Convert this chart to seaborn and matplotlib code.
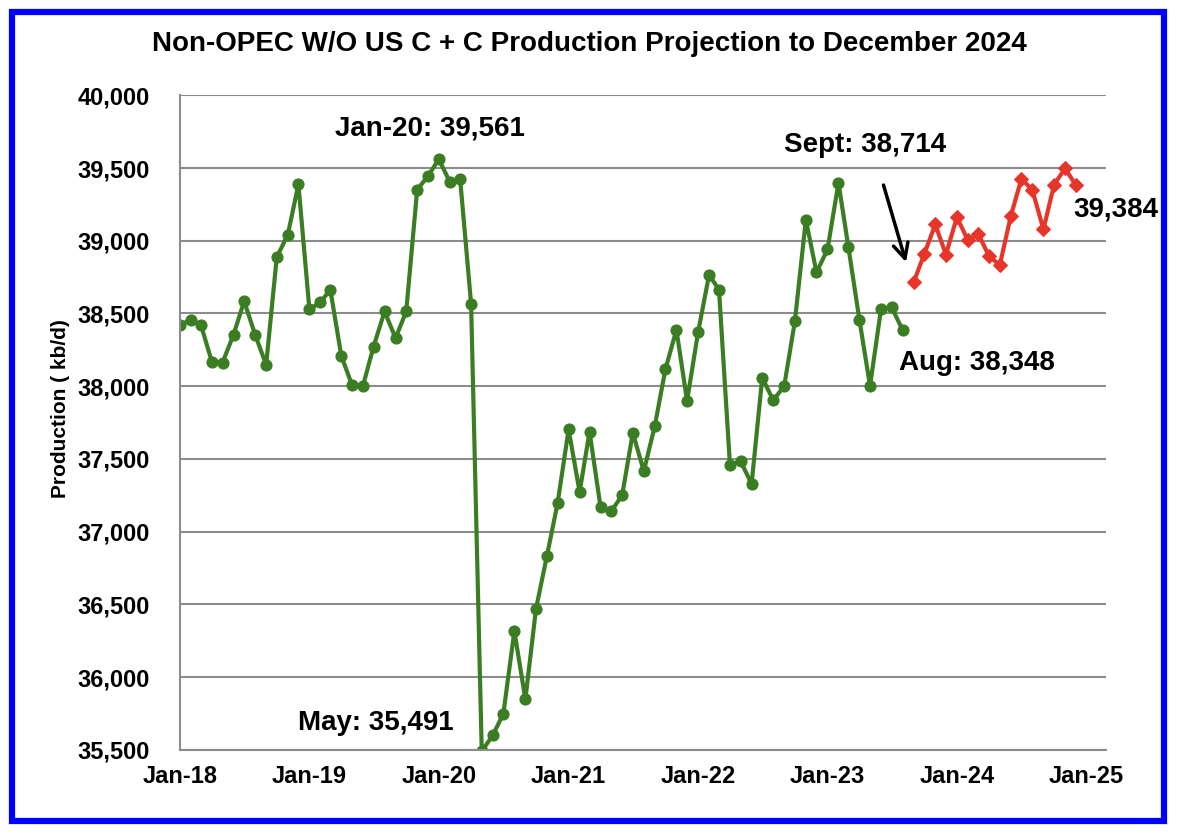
import matplotlib
matplotlib.use("Agg")
import matplotlib.pyplot as plt
import matplotlib.dates as mdates
from matplotlib.patches import Rectangle
import pandas as pd
import seaborn as sns

# monthly production, kb/d
actual_start = "2018-01-01"
actual_kbd = [
    38423, 38455, 38423, 38167, 38163, 38354, 38584, 38354, 38147, 38887, 39041, 39388,
    38528, 38577, 38664, 38209, 38009, 38002, 38273, 38514, 38331, 38514, 39352, 39443,
    39561, 39404, 39427, 38565, 35491, 35600, 35749, 36317, 35848, 36469, 36836, 37197,
    37703, 37273, 37687, 37170, 37140, 37250, 37680, 37416, 37726, 38117, 38388, 37899,
    38370, 38765, 38664, 37457, 37485, 37328, 38059, 37903, 38002, 38446, 39145, 38783,
    38940, 39398, 38956, 38457, 38002, 38531, 38542, 38386,
]
proj_start = "2023-09-01"
proj_kbd = [
    38714, 38910, 39112, 38905, 39163, 39002, 39048, 38892,
    38834, 39170, 39427, 39347, 39078, 39386, 39497, 39384,
]
year_ticks = pd.date_range("2018-01-01", "2025-01-01", freq="YS")

actual = pd.DataFrame({
    "month": pd.date_range(actual_start, periods=len(actual_kbd), freq="MS"),
    "kbd": actual_kbd,
})
proj = pd.DataFrame({
    "month": pd.date_range(proj_start, periods=len(proj_kbd), freq="MS"),
    "kbd": proj_kbd,
})

sns.set_theme(style="white")
plt.rcParams["font.family"] = ["Liberation Sans", "DejaVu Sans"]
plt.rcParams["font.weight"] = "bold"
plt.rcParams["text.color"] = "black"
plt.rcParams["xtick.labelcolor"] = "black"
plt.rcParams["ytick.labelcolor"] = "black"

fig = plt.figure(figsize=(11.84, 8.36), dpi=100)
ax = fig.add_axes([0.152, 0.103, 0.782, 0.783])

green = "#3A7D22"
red = "#E8352A"
sns.lineplot(data=actual, x="month", y="kbd", ax=ax, color=green, linewidth=3,
             marker="o", markersize=8, markeredgecolor=green)
sns.lineplot(data=proj, x="month", y="kbd", ax=ax, color=red, linewidth=3,
             marker="D", markersize=7, markeredgecolor=red)

ax.set_ylim(35500, 40000)
ax.set_yticks(range(35500, 40001, 500))
ax.set_yticklabels([f"{v:,}" for v in range(35500, 40001, 500)])
ax.set_xlim(pd.Timestamp("2018-01-01"), pd.Timestamp("2025-02-24"))
ax.set_xticks(year_ticks)
ax.xaxis.set_major_formatter(mdates.DateFormatter("%b-%y"))

ax.grid(axis="y", color="#8C8C8C", linewidth=1.5)
ax.grid(axis="x", visible=False)
for side in ["top", "right"]:
    ax.spines[side].set_visible(False)
for side in ["left", "bottom"]:
    ax.spines[side].set_color("#8C8C8C")
    ax.spines[side].set_linewidth(1.5)
ax.tick_params(axis="x", direction="in", length=7, width=1.5, color="#8C8C8C",
               labelcolor="black", labelsize=17, pad=11)
ax.tick_params(axis="y", length=0, labelcolor="black", labelsize=17, pad=21.5)
for lab in ax.get_xticklabels() + ax.get_yticklabels():
    lab.set_fontweight("bold")
ax.set_xlabel("")
ax.set_ylabel("")

fig.text(0.051, 1 - 409 / 836, "Production ( kb/d)", rotation=90, fontsize=15,
         fontweight="bold", color="black", ha="center", va="center")
fig.text(589 / 1184, 1 - 44 / 836,
         "Non-OPEC W/O US C + C Production Projection to December 2024",
         fontsize=20, fontweight="bold", color="black", ha="center", va="center")

note = dict(fontsize=20, fontweight="bold", color="black", ha="center",
            va="center", transform=ax.transAxes)
ax.text(0.2705, 0.950, "Jan-20: 39,561", **note)
ax.text(0.2117, 0.041, "May: 35,491", **note)
ax.text(0.740, 0.924, "Sept: 38,714", **note)
ax.text(0.861, 0.591, "Aug: 38,348", **note)
ax.text(1.0108, 0.825, "39,384", **note)
ax.annotate("", xy=(0.785, 0.741), xytext=(0.759, 0.867),
            xycoords="axes fraction", textcoords="axes fraction",
            arrowprops=dict(arrowstyle="->,head_length=0.9,head_width=0.45",
                            color="black", lw=2.5))

fig.patches.append(Rectangle((12 / 1184, 15 / 836), 1152 / 1184, 809 / 836,
                             transform=fig.transFigure, fill=False,
                             edgecolor="#0000FF", linewidth=4.5))

fig.savefig("out.png", dpi=100)
